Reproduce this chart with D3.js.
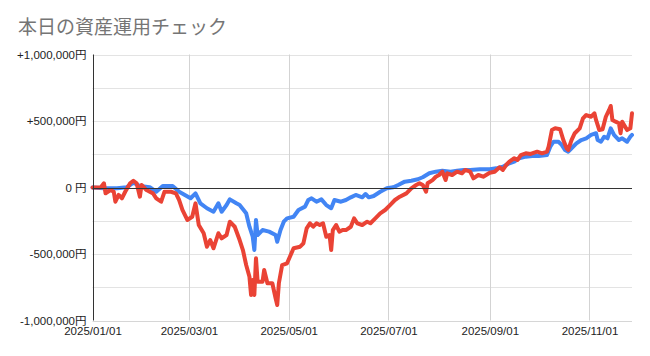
<!DOCTYPE html>
<html><head><meta charset="utf-8">
<script src="https://cdn.jsdelivr.net/npm/d3@7"></script>
<style>
html,body{margin:0;padding:0;background:#fff;}
svg{display:block;}
</style>
</head><body>
<svg id="chart" width="650" height="356"></svg>
<script>
const title = "本日の資産運用チェック";
const xTickDates = ["2025-01-01","2025-03-01","2025-05-01","2025-07-01","2025-09-01","2025-11-01"];
const yTickValues = [1000000, 500000, 0, -500000, -1000000];
const yTickLabels = ["+1,000,000円", "+500,000円", "0 円", "-500,000円", "-1,000,000円"];
const yGridValues = [1000000, 750000, 500000, 250000, 0, -250000, -500000, -750000, -1000000];

const blueDates = ["2025-01-01","2025-01-08","2025-01-16","2025-01-22","2025-01-26","2025-01-30","2025-02-05","2025-02-09","2025-02-13","2025-02-19",
"2025-02-23","2025-03-02","2025-03-05","2025-03-08","2025-03-12","2025-03-16","2025-03-19","2025-03-21","2025-03-24","2025-03-26",
"2025-03-30","2025-04-01","2025-04-05","2025-04-07","2025-04-09","2025-04-10","2025-04-11","2025-04-12","2025-04-15","2025-04-19",
"2025-04-23","2025-04-24","2025-04-26","2025-04-28","2025-04-30","2025-05-04","2025-05-07","2025-05-11","2025-05-13","2025-05-15",
"2025-05-18","2025-05-21","2025-05-24","2025-05-27","2025-05-29","2025-06-02","2025-06-05","2025-06-08","2025-06-11","2025-06-15",
"2025-06-17","2025-06-19","2025-06-22","2025-06-26","2025-06-30","2025-07-04","2025-07-07","2025-07-11","2025-07-15","2025-07-19",
"2025-07-22","2025-07-26","2025-07-30","2025-08-03","2025-08-08","2025-08-12","2025-08-16","2025-08-20","2025-08-26","2025-09-01",
"2025-09-05","2025-09-09","2025-09-13","2025-09-16","2025-09-19","2025-09-23","2025-09-27","2025-10-01","2025-10-06","2025-10-08",
"2025-10-10","2025-10-13","2025-10-15","2025-10-17","2025-10-19","2025-10-21","2025-10-24","2025-10-27","2025-10-30","2025-11-02",
"2025-11-05","2025-11-06","2025-11-08","2025-11-10","2025-11-12","2025-11-14","2025-11-16","2025-11-19","2025-11-21","2025-11-24",
"2025-11-26","2025-11-27"];
const blueValues = [0,-6000,-6000,2000,36000,11000,2000,-32000,11000,11000,
-32000,-81000,-44000,-119000,-156000,-182000,-119000,-182000,-132000,-89000,
-119000,-132000,-194000,-295000,-370000,-470000,-244000,-357000,-320000,-332000,
-357000,-408000,-320000,-257000,-232000,-220000,-169000,-144000,-94000,-81000,
-107000,-89000,-132000,-156000,-94000,-107000,-94000,-74000,-56000,-74000,
-49000,-74000,-64000,-32000,-6000,2000,19000,44000,51000,62000,
77000,107000,119000,126000,119000,126000,132000,132000,137000,137000,
144000,156000,182000,194000,220000,232000,237000,237000,244000,307000,
344000,344000,320000,282000,269000,295000,332000,357000,370000,395000,
408000,357000,344000,382000,370000,445000,395000,357000,370000,344000,
382000,395000];

const redDates = ["2025-01-01","2025-01-06","2025-01-08","2025-01-09","2025-01-12","2025-01-14","2025-01-15","2025-01-17","2025-01-19","2025-01-21",
"2025-01-24","2025-01-26","2025-01-28","2025-01-30","2025-01-31","2025-02-03","2025-02-07","2025-02-09","2025-02-12","2025-02-14",
"2025-02-18","2025-02-21","2025-02-23","2025-02-25","2025-02-28","2025-03-03","2025-03-05","2025-03-07","2025-03-10","2025-03-12",
"2025-03-14","2025-03-16","2025-03-19","2025-03-21","2025-03-24","2025-03-26","2025-03-29","2025-04-01","2025-04-03","2025-04-05",
"2025-04-07","2025-04-08","2025-04-09","2025-04-10","2025-04-11","2025-04-12","2025-04-15","2025-04-16","2025-04-18","2025-04-21",
"2025-04-23","2025-04-24","2025-04-25","2025-04-27","2025-04-30","2025-05-04","2025-05-08","2025-05-10","2025-05-12","2025-05-14",
"2025-05-16","2025-05-18","2025-05-20","2025-05-22","2025-05-24","2025-05-26","2025-05-27","2025-05-28","2025-05-30","2025-06-01",
"2025-06-03","2025-06-05","2025-06-08","2025-06-10","2025-06-12","2025-06-15","2025-06-18","2025-06-20","2025-06-23","2025-06-26",
"2025-06-29","2025-07-02","2025-07-05","2025-07-08","2025-07-12","2025-07-15","2025-07-18","2025-07-20","2025-07-22","2025-07-24",
"2025-07-25","2025-07-28","2025-07-30","2025-08-01","2025-08-03","2025-08-05","2025-08-06","2025-08-09","2025-08-12","2025-08-15",
"2025-08-17","2025-08-20","2025-08-22","2025-08-25","2025-08-28","2025-09-01","2025-09-04","2025-09-07","2025-09-09","2025-09-11",
"2025-09-13","2025-09-16","2025-09-18","2025-09-20","2025-09-23","2025-09-26","2025-09-30","2025-10-03","2025-10-06","2025-10-07",
"2025-10-09","2025-10-11","2025-10-14","2025-10-16","2025-10-18","2025-10-19","2025-10-21","2025-10-23","2025-10-26","2025-10-28",
"2025-10-30","2025-11-02","2025-11-04","2025-11-05","2025-11-07","2025-11-09","2025-11-11","2025-11-13","2025-11-14","2025-11-15",
"2025-11-17","2025-11-19","2025-11-20","2025-11-21","2025-11-24","2025-11-26","2025-11-27"];
const redValues = [0,0,32000,-44000,-19000,-32000,-107000,-56000,-81000,-32000,
32000,51000,32000,-69000,19000,-19000,-44000,-81000,-107000,-32000,
-32000,-44000,-94000,-169000,-244000,-220000,-119000,-282000,-344000,-445000,
-395000,-457000,-344000,-382000,-357000,-257000,-295000,-395000,-470000,-583000,
-671000,-808000,-696000,-808000,-532000,-708000,-708000,-620000,-720000,-720000,
-833000,-883000,-720000,-583000,-570000,-457000,-445000,-420000,-307000,-269000,
-295000,-269000,-282000,-269000,-370000,-357000,-470000,-320000,-282000,-332000,
-320000,-320000,-295000,-232000,-269000,-282000,-257000,-269000,-232000,-194000,
-169000,-132000,-94000,-69000,-44000,-6000,19000,32000,19000,-32000,
32000,56000,81000,94000,119000,56000,107000,94000,119000,107000,
132000,119000,69000,94000,81000,111000,119000,152000,132000,169000,
194000,220000,207000,244000,257000,252000,269000,257000,269000,307000,
432000,445000,438000,357000,295000,282000,357000,408000,445000,520000,
545000,532000,558000,508000,432000,438000,532000,583000,613000,508000,
495000,483000,408000,495000,432000,445000,558000];

(function(){
const parse = d3.utcParse("%Y-%m-%d");
const blue = blueDates.map((d,i)=>({date:parse(d), value:blueValues[i]}));
const red = redDates.map((d,i)=>({date:parse(d), value:redValues[i]}));

const svg = d3.select("#chart");
const pLeft = 92.5, pRight = 632, pTop = 54.5, pBottom = 320.5;

const x = d3.scaleUtc()
  .domain(d3.extent(blue.concat(red), d=>d.date))
  .range([pLeft, pRight]);
const y = d3.scaleLinear().domain([-1000000, 1000000]).range([pBottom, pTop]);

svg.append("text")
  .attr("x", 18).attr("y", 34)
  .attr("font-family", "Roboto, 'Noto Sans CJK JP', sans-serif")
  .attr("font-size", 19)
  .attr("fill", "#757575")
  .text(title);

// horizontal grid
svg.append("g").selectAll("line").data(yGridValues).join("line")
  .attr("x1", pLeft).attr("x2", pRight)
  .attr("y1", d=>Math.round(y(d))+0.5).attr("y2", d=>Math.round(y(d))+0.5)
  .attr("stroke", d => d === -1000000 ? "#d6d6d6" : "#e3e3e3")
  .attr("stroke-width", 1);

// vertical grid
svg.append("g").selectAll("line").data(xTickDates.slice(1)).join("line")
  .attr("x1", d=>Math.round(x(parse(d)))+0.5).attr("x2", d=>Math.round(x(parse(d)))+0.5)
  .attr("y1", pTop).attr("y2", pBottom)
  .attr("stroke", "#d3d3d3").attr("stroke-width", 1);

// lines
const line = d3.line().x(d=>x(d.date)).y(d=>y(d.value));
svg.append("path").datum(blue).attr("d", line)
  .attr("fill","none").attr("stroke","#4285F4").attr("stroke-width",4)
  .attr("stroke-linejoin","round").attr("stroke-linecap","round");
svg.append("path").datum(red).attr("d", line)
  .attr("fill","none").attr("stroke","#EA4335").attr("stroke-width",4)
  .attr("stroke-linejoin","round").attr("stroke-linecap","round");

// zero line
svg.append("line")
  .attr("x1", pLeft).attr("x2", pRight)
  .attr("y1", Math.round(y(0))+0.5).attr("y2", Math.round(y(0))+0.5)
  .attr("stroke", "#333").attr("stroke-width", 1);

// y axis
const yAxis = d3.axisLeft(y).tickValues(yTickValues)
  .tickFormat((d,i)=>yTickLabels[i]).tickSize(0).tickPadding(6);
const gy = svg.append("g").attr("transform", `translate(${pLeft},0)`).call(yAxis);
gy.select(".domain").remove();
gy.selectAll("text").attr("font-family", "Arial, 'Liberation Sans', 'Noto Sans CJK JP', sans-serif")
  .attr("font-size", 11.5).attr("fill", "#222");

svg.append("line")
  .attr("x1", Math.round(pLeft)+0.5).attr("x2", Math.round(pLeft)+0.5)
  .attr("y1", pTop).attr("y2", pBottom)
  .attr("stroke", "#333").attr("stroke-width", 1);

// x axis
const xAxis = d3.axisBottom(x).tickValues(xTickDates.map(parse))
  .tickFormat(d3.utcFormat("%Y/%m/%d")).tickSize(0).tickPadding(6);
const gx = svg.append("g").attr("transform", `translate(0,${pBottom})`).call(xAxis);
gx.select(".domain").remove();
gx.selectAll("text").attr("font-family", "Arial, 'Liberation Sans', sans-serif")
  .attr("font-size", 11.5).attr("fill", "#222");
})();
</script>
</body></html>
